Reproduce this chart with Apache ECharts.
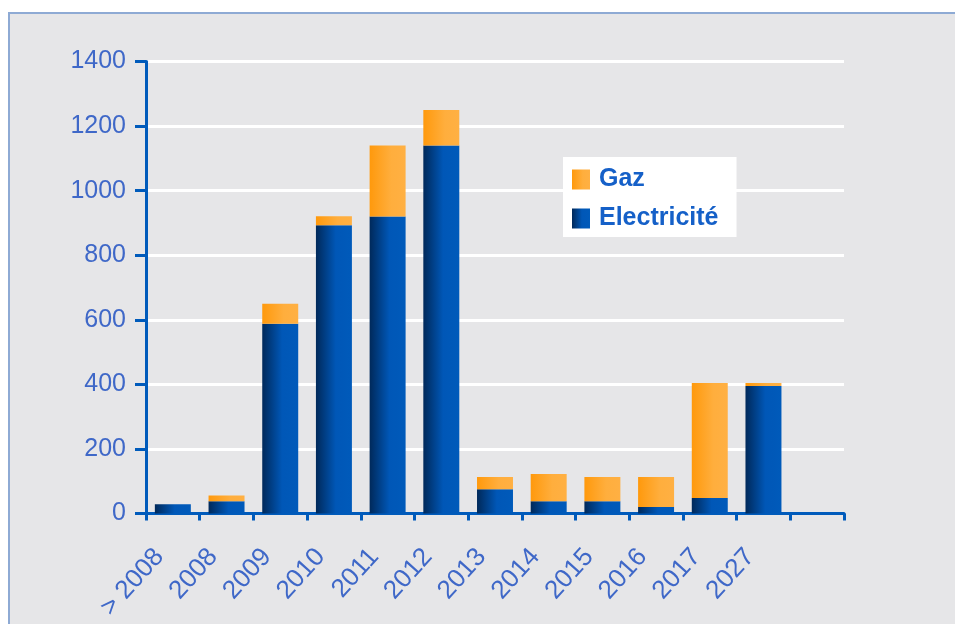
<!DOCTYPE html>
<html>
<head>
<meta charset="utf-8">
<title>Gaz et électricité</title>
<script src="https://cdn.jsdelivr.net/npm/echarts@6/dist/echarts.min.js"></script>
<style>
  html, body { margin: 0; padding: 0; background: #ffffff; }
  #frame {
    position: absolute; left: 8px; top: 12px; width: 960px; height: 620px;
    background: #e6e6e8; border-top: 2px solid #8eaad4; border-left: 2px solid #8eaad4;
  }
  #chart { position: absolute; left: 0; top: 0; width: 955px; height: 624px; }
</style>
</head>
<body>
<div id="frame"></div>
<div id="chart"></div>
<script>
// Years on the horizontal axis (last slot left empty)
const categories = ['> 2008', '2008', '2009', '2010', '2011', '2012', '2013', '2014', '2015', '2016', '2017', '2027', ''];
// Electricity volume per year (lower part of each column)
const electricite = [29, 38, 588, 893, 920, 1140, 75, 38, 38, 20, 48, 395, null];
// Gas volume per year (stacked on top)
const gaz = [0, 18, 62, 28, 220, 110, 38, 84, 75, 93, 356, 9, null];
// Value axis ticks
const yTicks = [0, 200, 400, 600, 800, 1000, 1200, 1400];

const axisBlue = '#005bbb';
const labelBlue = '#3f68c8';
const fontFam = '"Liberation Sans", Arial, sans-serif';

const blueFill = {
  type: 'linear', x: 0, y: 0, x2: 1, y2: 0,
  colorStops: [
    { offset: 0, color: '#00295a' },
    { offset: 0.55, color: '#0057b7' },
    { offset: 1, color: '#005aba' }
  ]
};
const orangeFill = {
  type: 'linear', x: 0, y: 0, x2: 1, y2: 0,
  colorStops: [
    { offset: 0, color: '#ff990c' },
    { offset: 0.6, color: '#ffae3d' },
    { offset: 1, color: '#ffb043' }
  ]
};

const chart = echarts.init(document.getElementById('chart'), null, { renderer: 'canvas' });
chart.setOption({
  backgroundColor: 'transparent',
  animation: false,
  grid: { left: 146, right: 111, top: 61.5, bottom: 110.5, containLabel: false },
  legend: {
    data: ['Gaz', 'Electricité'],
    orient: 'vertical',
    left: 563, top: 157,
    backgroundColor: '#ffffff',
    padding: [10, 18, 6, 9],
    itemWidth: 18, itemHeight: 20, itemGap: 14,
    icon: 'rect',
    textStyle: {
      fontFamily: fontFam, fontWeight: 'bold', fontSize: 25, lineHeight: 20,
      color: '#1560c8', padding: [0, 0, 0, 4]
    }
  },
  xAxis: {
    type: 'category',
    data: categories,
    boundaryGap: true,
    axisLine: { show: true, lineStyle: { color: axisBlue, width: 3 } },
    axisTick: { show: true, length: 7, lineStyle: { color: axisBlue, width: 3 } },
    axisLabel: {
      rotate: 48, margin: 24, interval: 0, padding: [0, 20, 0, 0],
      fontFamily: fontFam, fontSize: 26, color: labelBlue
    },
    splitLine: { show: false }
  },
  yAxis: {
    type: 'value',
    min: yTicks[0], max: yTicks[yTicks.length - 1], interval: 200,
    axisLine: { show: true, lineStyle: { color: axisBlue, width: 3 } },
    axisTick: { show: true, length: 11, lineStyle: { color: axisBlue, width: 3 } },
    axisLabel: {
      margin: 20, fontFamily: fontFam, fontSize: 25, color: labelBlue,
      formatter: (v) => String(v)
    },
    splitLine: { show: true, lineStyle: { color: '#ffffff', width: 3 } }
  },
  series: [
    {
      name: 'Electricité', type: 'bar', stack: 'total', barWidth: '67%',
      data: electricite, itemStyle: { color: blueFill }
    },
    {
      name: 'Gaz', type: 'bar', stack: 'total', barWidth: '67%',
      data: gaz, itemStyle: { color: orangeFill }
    }
  ]
});
</script>
</body>
</html>
